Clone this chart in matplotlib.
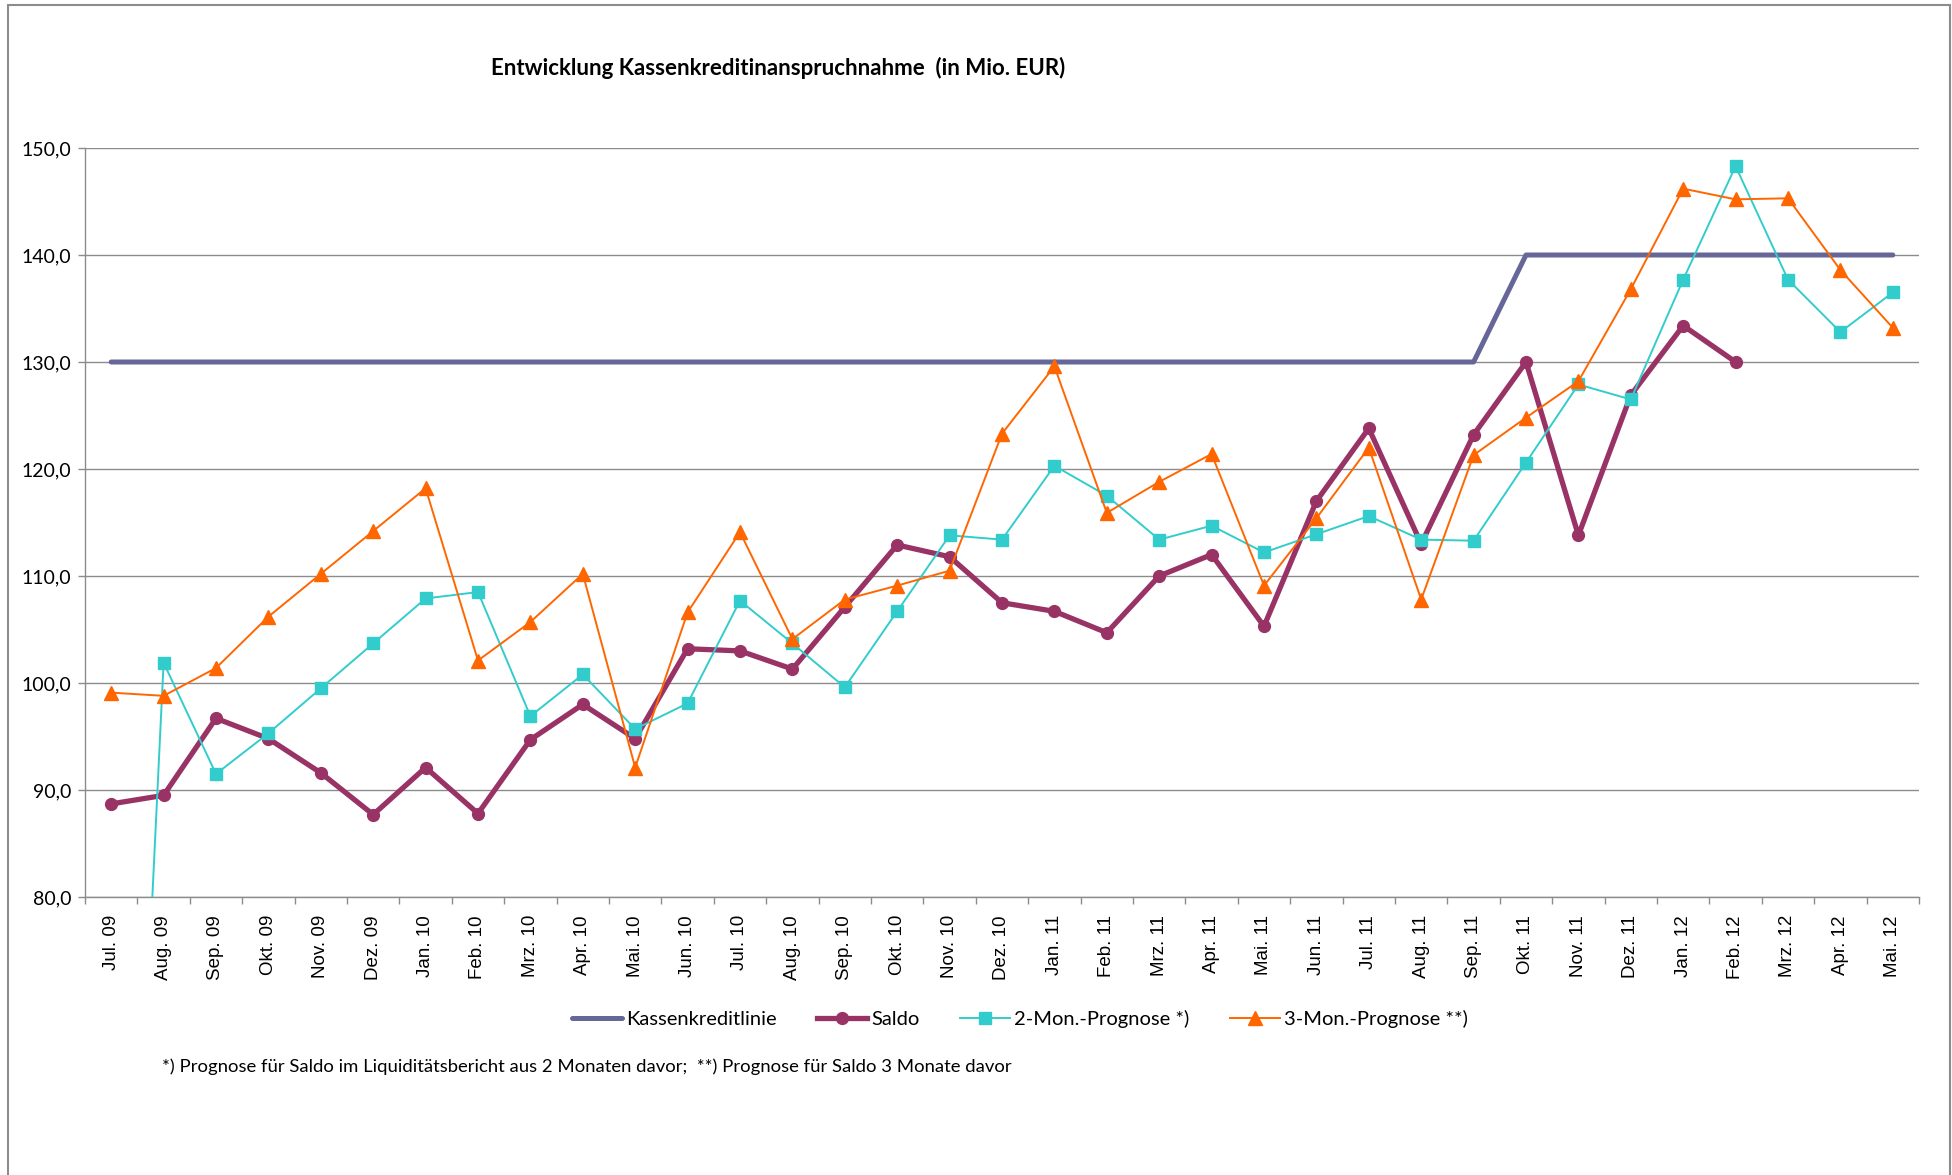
import numpy as np
import matplotlib
matplotlib.use("Agg")
import matplotlib.pyplot as plt
from matplotlib.ticker import FuncFormatter, FixedLocator
from matplotlib.patches import Rectangle

months = ["Jul. 09", "Aug. 09", "Sep. 09", "Okt. 09", "Nov. 09", "Dez. 09",
          "Jan. 10", "Feb. 10", "Mrz. 10", "Apr. 10", "Mai. 10", "Jun. 10",
          "Jul. 10", "Aug. 10", "Sep. 10", "Okt. 10", "Nov. 10", "Dez. 10",
          "Jan. 11", "Feb. 11", "Mrz. 11", "Apr. 11", "Mai. 11", "Jun. 11",
          "Jul. 11", "Aug. 11", "Sep. 11", "Okt. 11", "Nov. 11", "Dez. 11",
          "Jan. 12", "Feb. 12", "Mrz. 12", "Apr. 12", "Mai. 12"]

kassenkreditlinie = [130]*27 + [140]*8

saldo = [88.7, 89.5, 96.7, 94.8, 91.6, 87.7, 92.1, 87.8, 94.7, 98.0, 94.8, 103.2,
         103.0, 101.3, 107.1, 112.9, 111.8, 107.5, 106.7, 104.7, 110.0, 112.0, 105.3, 117.0,
         123.8, 113.0, 123.2, 130.0, 113.8, 126.9, 133.4, 130.0, None, None, None]

prognose_2m = [0.0, 101.9, 91.5, 95.3, 99.5, 103.7, 107.9, 108.5, 96.9, 100.8, 95.7, 98.1,
               107.7, 103.7, 99.6, 106.7, 113.8, 113.4, 120.3, 117.5, 113.4, 114.7, 112.2, 113.9,
               115.6, 113.4, 113.3, 120.6, 127.9, 126.5, 137.7, 148.3, 137.7, 132.8, 136.5]

prognose_3m = [99.1, 98.8, 101.4, 106.2, 110.2, 114.2, 118.2, 102.1, 105.7, 110.2, 92.1, 106.6,
               114.1, 104.1, 107.8, 109.1, 110.5, 123.3, 129.6, 115.9, 118.8, 121.4, 109.1, 115.4,
               122.0, 107.8, 121.3, 124.8, 128.2, 136.8, 146.2, 145.2, 145.3, 138.6, 133.2]

series_names = ["Kassenkreditlinie", "Saldo", "2-Mon.-Prognose *)", "3-Mon.-Prognose **)"]
title = "Entwicklung Kassenkreditinanspruchnahme  (in Mio. EUR)"
footnote = "*) Prognose für Saldo im Liquiditätsbericht aus 2 Monaten davor;  **) Prognose für Saldo 3 Monate davor"

CAL = ["Lato", "DejaVu Sans"]
ARIAL = ["Liberation Sans", "DejaVu Sans"]

W, H = 1952, 1175
fig = plt.figure(figsize=(W/100, H/100), dpi=100)
fig.patch.set_facecolor("white")

# outer frame
fig.add_artist(Rectangle((8/W, -0.05), (1950-8)/W, 1.05 - 5/H, transform=fig.transFigure,
                         fill=False, edgecolor="#8c8c8c", linewidth=1.5))

ax = fig.add_axes([85/W, 1-897/H, (1919-85)/W, (897-148)/H])
x = np.arange(len(months))

def arr(v):
    return np.array([np.nan if a is None else a for a in v], dtype=float)

ax.plot(x, arr(kassenkreditlinie), color="#666699", lw=3.6, solid_capstyle="round",
        label=series_names[0], zorder=3)
ax.plot(x, arr(saldo), color="#993366", lw=3.8, marker="o", ms=8.5, mec="#993366",
        label=series_names[1], zorder=4)
ax.plot(x, arr(prognose_2m), color="#33CCCC", lw=1.4, marker="s", ms=9, mec="#33CCCC",
        label=series_names[2], zorder=5)
ax.plot(x, arr(prognose_3m), color="#FF6600", lw=1.4, marker="^", ms=10, mec="#FF6600",
        label=series_names[3], zorder=6)

ax.set_xlim(-0.5, len(months)-0.5)
ax.set_ylim(80, 150)
ax.set_yticks(np.arange(80, 151, 10))
ax.yaxis.set_major_formatter(FuncFormatter(lambda v, p: f"{v:.1f}".replace(".", ",")))
ax.grid(axis="y", color="#8c8c8c", lw=1.0)
ax.set_axisbelow(True)

ax.set_xticks(x)
ax.set_xticklabels(months, rotation=90, fontfamily=ARIAL, fontsize=13.5)
ax.xaxis.set_minor_locator(FixedLocator(np.arange(-0.5, len(months), 1.0)))
ax.tick_params(axis="x", which="major", length=0, pad=13)
ax.tick_params(axis="x", which="minor", length=5, color="#8c8c8c", width=1)
ax.tick_params(axis="y", which="major", length=5, color="#8c8c8c", width=1, pad=5)
for lab in ax.get_yticklabels():
    lab.set_fontfamily(CAL)
    lab.set_fontsize(14)

for s in ["top", "right"]:
    ax.spines[s].set_visible(False)
for s in ["left", "bottom"]:
    ax.spines[s].set_color("#8c8c8c")
    ax.spines[s].set_linewidth(1.0)

fig.text(778/W, 1-68/H, title, ha="center", va="center", fontfamily=CAL,
         fontweight="bold", fontsize=16)

leg = fig.legend(loc="center", bbox_to_anchor=(1020/W, 1-1019/H), ncol=4, frameon=False,
                 prop={"family": CAL, "size": 14.5}, handlelength=2.5, handletextpad=0.2,
                 columnspacing=2.0, numpoints=1)

fig.text(162/W, 1-1067/H, footnote, ha="left", va="center", fontfamily=CAL, fontsize=13.3)

fig.savefig("out.png", dpi=100, facecolor="white")
